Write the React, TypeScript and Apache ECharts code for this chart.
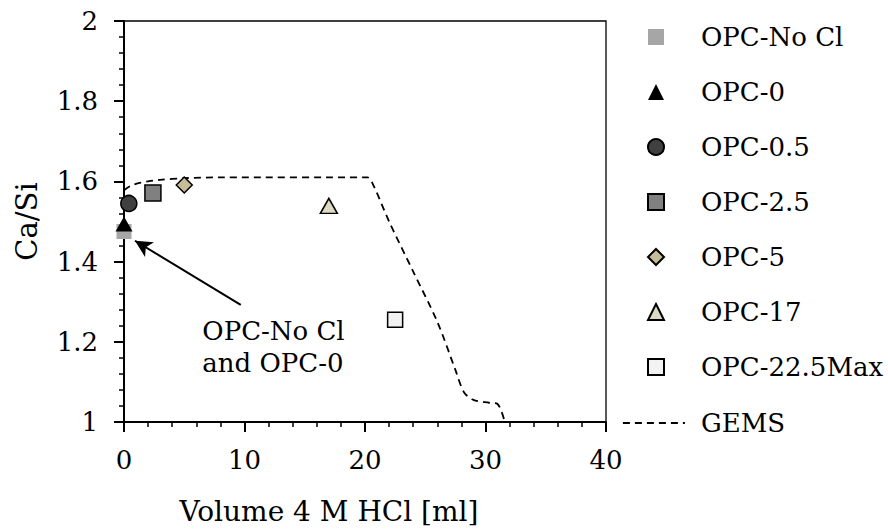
import React, { useEffect, useRef } from "react";
import * as echarts from "echarts";

const markerNames = ["OPC-No Cl", "OPC-0", "OPC-0.5", "OPC-2.5", "OPC-5", "OPC-17", "OPC-22.5Max"];
const lineName = "GEMS";
const opcNoCl = [[0, 1.475]];
const opc0 = [[0, 1.494]];
const opc05 = [[0.4, 1.545]];
const opc25 = [[2.4, 1.571]];
const opc5 = [[5.0, 1.591]];
const opc17 = [[17.0, 1.539]];
const opc225 = [[22.5, 1.255]];
const gemsX = [0, 0.5, 1, 2, 3, 5, 8, 20.2, 20.7, 22, 24, 26, 27.5, 28.2, 29, 30.3, 31, 31.6];
const gemsY = [1.578, 1.588, 1.594, 1.6, 1.604, 1.608, 1.61, 1.61, 1.59, 1.5, 1.375, 1.25, 1.13, 1.075, 1.055, 1.048, 1.045, 1.0];
const arrowFrom = [9.69, 1.292];
const arrowTo = [0.91, 1.452];
const noteAt = [6.5, 1.187];
const noteText = "OPC-No Cl\nand OPC-0";

const FONT = "DejaVu Serif";

export default function App() {
  const ref = useRef<HTMLDivElement>(null);
  useEffect(() => {
    if (!ref.current) return;
    const chart = echarts.init(ref.current, undefined, { renderer: "svg" });
    const scatter = (name: string, data: number[][], symbol: string, size: number | number[], color: string, border: boolean) => ({
      name,
      type: "scatter",
      data,
      symbol,
      symbolSize: size,
      itemStyle: { color, borderColor: "#000", borderWidth: border ? 1.5 : 0, opacity: 1 },
      z: 3,
    });
    chart.setOption({
      animation: false,
      backgroundColor: "#fff",
      textStyle: { fontFamily: FONT },
      grid: {
        left: 124,
        top: 21,
        right: 282,
        bottom: 109,
        show: true,
        borderColor: "#000",
        borderWidth: 1.3,
        backgroundColor: "transparent",
      },
      legend: [
        {
          data: markerNames,
          orient: "vertical",
          left: 647,
          top: 22,
          padding: 0,
          itemWidth: 16,
          itemHeight: 16,
          itemGap: 25,
          selectedMode: false,
          textStyle: { fontFamily: FONT, fontSize: 26, color: "#000", lineHeight: 30, padding: [0, 0, 0, 32] },
        },
        {
          data: [lineName],
          orient: "vertical",
          left: 622,
          top: 408,
          padding: 0,
          itemWidth: 62,
          itemHeight: 16,
          selectedMode: false,
          itemStyle: { opacity: 0 },
          lineStyle: { color: "#000", width: 1.8, type: [7, 5], opacity: 1 },
          textStyle: { fontFamily: FONT, fontSize: 26, color: "#000", lineHeight: 30, padding: [0, 0, 0, 11] },
        },
      ],
      xAxis: {
        type: "value",
        min: 0,
        max: 40,
        interval: 10,
        name: "Volume 4 M HCl [ml]",
        nameLocation: "middle",
        nameGap: 75,
        nameTextStyle: { fontFamily: FONT, fontSize: 28, color: "#000", padding: [0, 72, 0, 0] },
        axisLine: { show: true, onZero: false, lineStyle: { color: "#000", width: 2 } },
        axisTick: { show: true, inside: false, length: 10, lineStyle: { color: "#000", width: 2 } },
        minorTick: { show: true, splitNumber: 5, length: 5, lineStyle: { color: "#000", width: 1.5 } },
        axisLabel: { fontFamily: FONT, fontSize: 26, color: "#000", margin: 25 },
        splitLine: { show: false },
        minorSplitLine: { show: false },
      },
      yAxis: {
        type: "value",
        min: 1,
        max: 2,
        interval: 0.2,
        name: "Ca/Si",
        nameLocation: "middle",
        nameGap: 83,
        nameTextStyle: { fontFamily: FONT, fontSize: 29, color: "#000" },
        axisLine: { show: true, onZero: false, lineStyle: { color: "#000", width: 2 } },
        axisTick: { show: true, inside: false, length: 10, lineStyle: { color: "#000", width: 2 } },
        minorTick: { show: true, splitNumber: 5, length: 5, lineStyle: { color: "#000", width: 1.5 } },
        axisLabel: { fontFamily: FONT, fontSize: 26, color: "#000", margin: 26 },
        splitLine: { show: false },
        minorSplitLine: { show: false },
      },
      series: [
        {
          name: lineName,
          type: "line",
          data: gemsX.map((x, i) => [x, gemsY[i]]),
          symbol: "none",
          smooth: 0.3,
          lineStyle: { color: "#000", width: 1.8, type: [7, 5] },
          itemStyle: { color: "#000" },
          z: 2,
          markLine: {
            silent: true,
            symbol: ["none", "arrow"],
            symbolSize: [13, 17],
            label: { show: false },
            lineStyle: { color: "#000", width: 2, type: "solid" },
            data: [[{ coord: arrowFrom }, { coord: arrowTo }]],
          },
        },
        scatter("OPC-No Cl", opcNoCl, "rect", 15, "#a6a6a6", false),
        scatter("OPC-0", opc0, "triangle", [17, 15], "#000", false),
        scatter("OPC-0.5", opc05, "circle", 16, "#404040", true),
        scatter("OPC-2.5", opc25, "rect", 16, "#808080", true),
        scatter("OPC-5", opc5, "diamond", 16, "#c4bd97", true),
        scatter("OPC-17", opc17, "triangle", [17, 15], "#ddd9c3", true),
        scatter("OPC-22.5Max", opc225, "rect", 15, "#f2f2f2", true),
        {
          name: "note",
          type: "scatter",
          data: [noteAt],
          symbolSize: 0,
          silent: true,
          itemStyle: { opacity: 1, color: "#000" },
          label: {
            show: true,
            position: "right",
            distance: 0,
            formatter: noteText,
            fontFamily: FONT,
            fontSize: 26,
            lineHeight: 32,
            color: "#000",
            opacity: 1,
            align: "left",
          },
          z: 4,
        },
      ],
    });
    return () => chart.dispose();
  }, []);
  return <div ref={ref} style={{ width: 888, height: 531, position: "absolute", left: 0, top: 0 }} />;
}
